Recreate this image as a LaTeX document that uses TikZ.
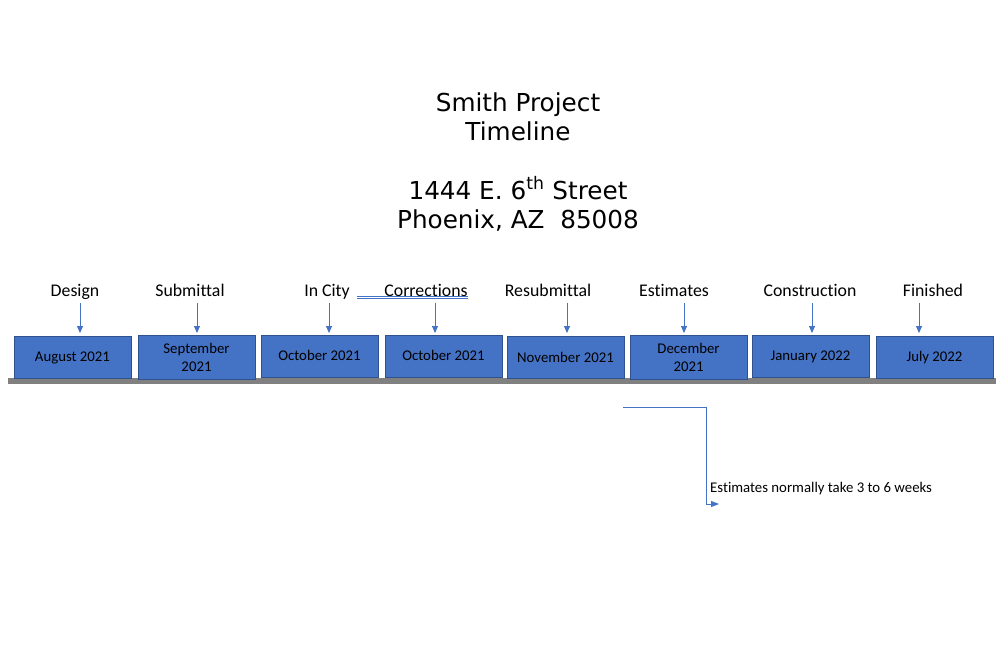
\documentclass[tikz,border=0pt]{standalone}
\usepackage{fontspec}
\setmainfont{Carlito}[Ligatures=NoCommon]
\newfontfamily\titlefont{DejaVu Sans}
\usetikzlibrary{arrows.meta}
\definecolor{boxblue}{HTML}{4472C4}
\definecolor{boxedge}{HTML}{2F528F}
\definecolor{bargray}{HTML}{808080}
\newcommand{\lowtext}[1]{\raisebox{-4.8pt}[0pt][0pt]{#1}}
\tikzset{
  x=1pt,y=-1pt,
  monthbox/.style={draw=boxedge,line width=0.8pt,fill=boxblue,minimum width=117pt,minimum height=42pt,inner sep=0pt,align=center,font=\fontsize{14.8}{18}\selectfont,text=black},
  phase/.style={font=\fontsize{17.8}{20}\selectfont,inner sep=0pt,anchor=base},
  ttl/.style={font=\titlefont\fontsize{24.7}{29}\selectfont,align=center,inner sep=0pt},
  arr/.style={draw=boxblue,line width=0.8pt,-{Triangle[width=6pt,length=7pt]}},
}
\begin{document}
\begin{tikzpicture}
\useasboundingbox (0,0) rectangle (1004,656);
% title
\node[ttl,anchor=base] (t1) at (518,111) {Smith Project};
\node[ttl,anchor=base] (t2) at (518,140) {Timeline};
\node[ttl,anchor=base] (t3) at (518,199) {1444 E. 6\textsuperscript{th} Street};
\node[ttl,anchor=base] (t4) at (518,228) {Phoenix, AZ\ \ 85008};
% bar
\fill[bargray] (8,378) rectangle (996,384);
% boxes
\node[monthbox] (b1) at (72.5,357) {\lowtext{August 2021}};
\node[monthbox,minimum height=44pt] (b2) at (196.5,357) {September\\2021};
\node[monthbox] (b3) at (319.5,356) {\lowtext{October 2021}};
\node[monthbox] (b4) at (443.5,356) {\lowtext{October 2021}};
\node[monthbox] (b5) at (565.5,357.5) {\lowtext{November 2021}};
\node[monthbox,minimum height=44pt] (b6) at (688.5,357) {December\\2021};
\node[monthbox] (b7) at (810.5,356) {\lowtext{January 2022}};
\node[monthbox] (b8) at (934.5,357) {\lowtext{July 2022}};
% phase labels
\node[phase] (l1) at (75,296) {Design};
\node[phase] (l2) at (190,296) {Submittal};
\node[phase] (l3) at (327,296) {In City};
\node[phase] (l4) at (426,296) {Corrections};
\node[phase] (l5) at (548,296) {Resubmittal};
\node[phase] (l6) at (674,296) {Estimates};
\node[phase] (l7) at (810,296) {Construction};
\node[phase] (l8) at (933,296) {Finished};
% double underline
\draw[boxblue,line width=0.7pt] (357,296) -- (468,296);
\draw[boxblue,line width=0.7pt] (357,298.5) -- (468,298.5);
% arrows
\foreach \i/\xx in {1/80,2/197,3/329,4/435,5/567,6/684,7/812,8/919}{
  \coordinate (a\i) at (\xx,303);
  \draw[arr] (a\i) -- (\xx,333);
}
% note
\coordinate (n0) at (623,407);
\node[font=\fontsize{14.8}{17}\selectfont,anchor=base west,inner sep=0pt] (note) at (710,492) {Estimates normally take 3 to 6 weeks};
\coordinate (n1) at (719,504);
\draw[draw=boxblue,line width=0.8pt,-{Triangle[width=6pt,length=8pt]}] (n0) -| (706,504) -- (n1);
\end{tikzpicture}
\end{document}
